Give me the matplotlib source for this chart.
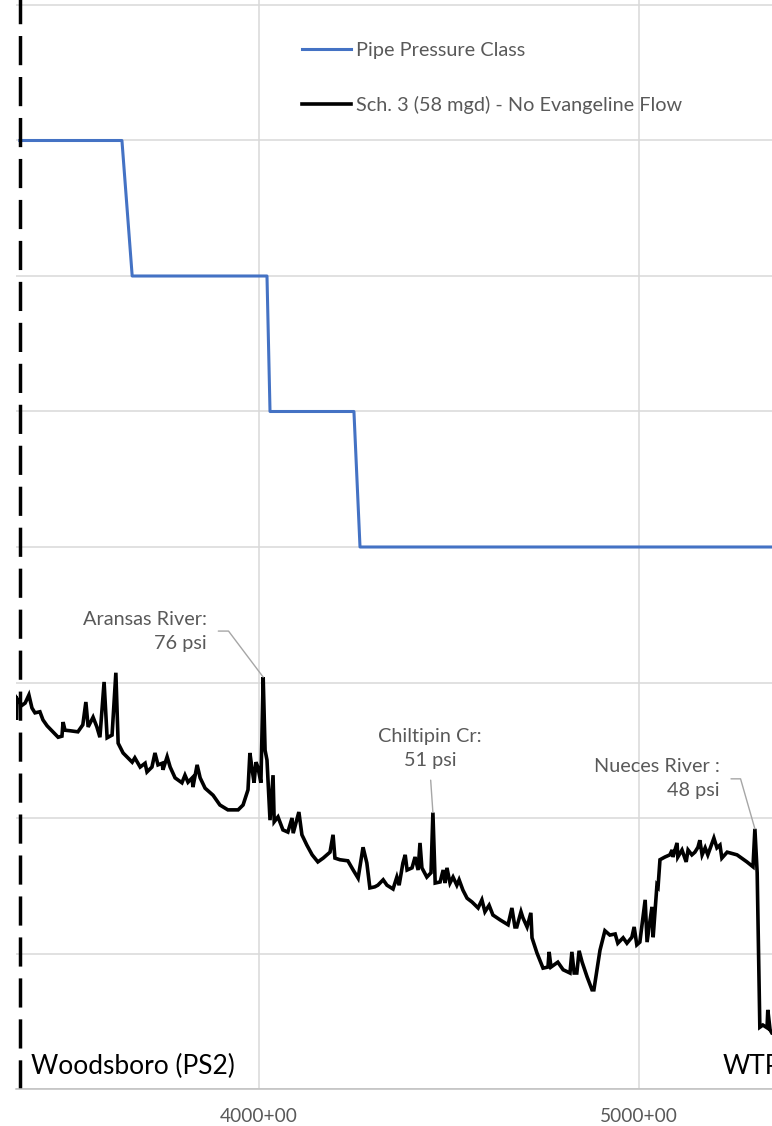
import matplotlib.pyplot as plt
from matplotlib.ticker import FuncFormatter, MultipleLocator

plt.rcParams['font.family'] = ['Lato', 'DejaVu Sans']

# Hydraulic grade profile, Sch. 3 (58 mgd), station (ft/100) vs pressure (psi)
station = [3360, 3361, 3363, 3365, 3376, 3384, 3394, 3402, 3410, 3423, 3431, 3442,
           3457, 3471, 3481, 3484, 3489, 3502, 3523, 3536, 3544, 3550, 3563, 3573,
           3581, 3592, 3600, 3613, 3623, 3629, 3642, 3666, 3673, 3687, 3700, 3705,
           3718, 3726, 3734, 3745, 3747, 3758, 3766, 3779, 3797, 3805, 3813, 3824,
           3826, 3837, 3845, 3858, 3879, 3897, 3918, 3945, 3958, 3971, 3976, 3982,
           3987, 3992, 3997, 4005, 4011, 4016, 4021, 4029, 4037, 4040, 4050, 4063,
           4076, 4087, 4090, 4105, 4113, 4126, 4140, 4155, 4169, 4187, 4195, 4200,
           4213, 4234, 4248, 4261, 4274, 4284, 4292, 4305, 4313, 4327, 4337, 4353,
           4363, 4369, 4379, 4385, 4390, 4403, 4411, 4419, 4424, 4429, 4442, 4453,
           4458, 4464, 4477, 4485, 4490, 4495, 4503, 4511, 4521, 4527, 4537, 4548,
           4561, 4577, 4587, 4595, 4606, 4616, 4635, 4656, 4666, 4674, 4679, 4690,
           4695, 4706, 4716, 4719, 4732, 4748, 4761, 4764, 4769, 4787, 4801, 4819,
           4824, 4830, 4837, 4843, 4851, 4864, 4877, 4882, 4898, 4911, 4924, 4938,
           4945, 4959, 4969, 4982, 4988, 4995, 5003, 5017, 5022, 5030, 5035, 5038,
           5048, 5051, 5056, 5069, 5082, 5088, 5090, 5101, 5103, 5114, 5125, 5130,
           5140, 5148, 5156, 5161, 5167, 5175, 5182, 5198, 5206, 5214, 5219, 5233,
           5259, 5285, 5301, 5306, 5312, 5319, 5327, 5338, 5340, 5346, 5351, 5372,
           5425]
pressure = [72.1, 68.1, 72.0, 71.8, 70.8, 71.2, 72.7, 70.3, 69.4, 69.6, 68.1, 67.0,
            65.9, 64.9, 65.1, 67.7, 66.2, 66.1, 65.9, 67.2, 71.4, 66.8, 68.6, 66.8,
            64.9, 75.1, 64.8, 65.3, 76.8, 63.8, 62.0, 60.3, 61.1, 59.4, 60.1, 58.5,
            59.4, 62.0, 59.8, 60.1, 58.9, 61.3, 59.4, 57.4, 56.5, 57.9, 56.6, 57.4,
            55.7, 59.8, 57.4, 55.5, 54.2, 52.4, 51.5, 51.5, 52.4, 55.2, 62.0, 58.9,
            56.5, 60.3, 59.4, 56.5, 76.0, 62.5, 60.7, 49.6, 57.9, 49.3, 50.2, 47.8,
            47.4, 50.0, 47.2, 51.1, 46.9, 45.0, 43.2, 41.9, 42.6, 43.7, 46.9, 42.6,
            42.3, 42.1, 40.4, 38.9, 44.6, 41.7, 37.1, 37.3, 37.6, 38.6, 37.6, 36.9,
            39.1, 37.6, 41.7, 43.2, 40.4, 40.8, 42.8, 40.4, 45.4, 40.8, 39.1, 39.9,
            51.0, 38.0, 38.2, 40.4, 38.0, 40.8, 38.0, 39.1, 37.6, 38.6, 36.7, 35.2,
            34.5, 33.4, 34.9, 32.7, 33.9, 32.1, 31.2, 30.3, 33.4, 29.9, 29.9, 32.7,
            31.6, 29.9, 32.5, 27.9, 25.1, 22.3, 22.5, 25.3, 22.5, 23.4, 22.0, 21.4,
            25.3, 21.4, 21.4, 25.5, 23.4, 20.7, 18.3, 18.3, 25.6, 29.2, 28.4, 28.6,
            26.9, 27.9, 26.9, 28.0, 29.9, 26.6, 27.1, 34.9, 27.1, 31.2, 33.6, 28.0,
            37.6, 37.3, 42.3, 42.8, 43.2, 44.1, 42.8, 45.4, 42.8, 44.1, 41.9, 44.1,
            43.2, 43.7, 44.6, 45.9, 43.2, 44.5, 43.2, 46.3, 44.5, 45.0, 42.6, 43.7,
            43.2, 41.9, 41.0, 48.0, 39.9, 11.4, 11.8, 11.3, 14.6, 10.9, 10.3, 10.0,
            9.4]

# Pipe pressure class by reach
class_station = [3370, 3639, 3666, 4021, 4029, 4250, 4266, 5450]
class_psi = [175, 175, 150, 150, 125, 125, 100, 100]

# Labelled creek / river crossings: (label, station, psi)
crossings = [("Aransas River:", 4011, 76),
             ("Chiltipin Cr:", 4458, 51),
             ("Nueces River :", 5306, 48)]

woodsboro_sta = 3370
wtp_sta = 5221

gray_txt = '#595959'

fig = plt.figure(figsize=(7.72, 11.26), dpi=100)
ax = fig.add_axes([16 / 772, 37 / 1126, 2080 * 0.3797 / 772, 210 * 5.42 / 1126])
ax.set_xlim(3360, 5440)
ax.set_ylim(0, 210)

ax.xaxis.set_major_locator(MultipleLocator(1000))
ax.yaxis.set_major_locator(MultipleLocator(25))
ax.xaxis.set_major_formatter(FuncFormatter(lambda v, p: f"{v:.0f}+00"))
ax.grid(True, color='#d9d9d9', lw=1.1)
ax.set_axisbelow(True)
ax.tick_params(axis='x', length=0, pad=14, labelsize=13.75, labelcolor=gray_txt)
ax.tick_params(axis='y', length=0, labelleft=False)
for s in ['left', 'top', 'right']:
    ax.spines[s].set_visible(False)
ax.spines['bottom'].set_color('#bfbfbf')
ax.spines['bottom'].set_linewidth(1.1)

ax.plot(class_station, class_psi, color='#4472c4', lw=2.2, label='Pipe Pressure Class')
ax.plot(station, pressure, color='black', lw=2.6, solid_joinstyle='miter',
        label='Sch. 3 (58 mgd) - No Evangeline Flow')

ax.axvline(woodsboro_sta, color='black', lw=2.5, dashes=(8.4, 3.4))

leg = ax.legend(loc='upper left', bbox_to_anchor=(302 / 772, 1 - 42 / 1126),
                bbox_transform=fig.transFigure, frameon=False, fontsize=14.3,
                handlelength=2.46, handletextpad=0.25, labelspacing=1.88,
                borderpad=0, borderaxespad=0)
for t in leg.get_texts():
    t.set_color(gray_txt)

# crossing callouts: text offset (pixels), alignment, leader angle
callout_style = [((-56, 46), 'right', 'angle,angleA=0,angleB=-53,rad=0', (1, 0.5)),
                 ((-3, 64), 'center', 'arc3', (0.5, 0)),
                 ((-35, 50), 'right', 'angle,angleA=0,angleB=-74,rad=0', (1, 0.5))]
for (name, sta, psi), (off, ha, conn, rp) in zip(crossings, callout_style):
    ax.annotate(f"{name}\n{psi} psi", xy=(sta, psi), xytext=off,
                textcoords='offset pixels', ha=ha, va='center', multialignment=ha,
                fontsize=14.3, color=gray_txt, linespacing=1.5,
                arrowprops=dict(arrowstyle='-', color='#a6a6a6', lw=1.0,
                                connectionstyle=conn, relpos=rp,
                                shrinkA=6, shrinkB=0))

ax.text(woodsboro_sta + 30, 4.2, "Woodsboro (PS2)", fontsize=19, va='center',
        ha='left', color='black')
ax.text(wtp_sta, 4.2, "WTP", fontsize=19, va='center', ha='left', color='black')

fig.savefig('out.png', dpi=100)
